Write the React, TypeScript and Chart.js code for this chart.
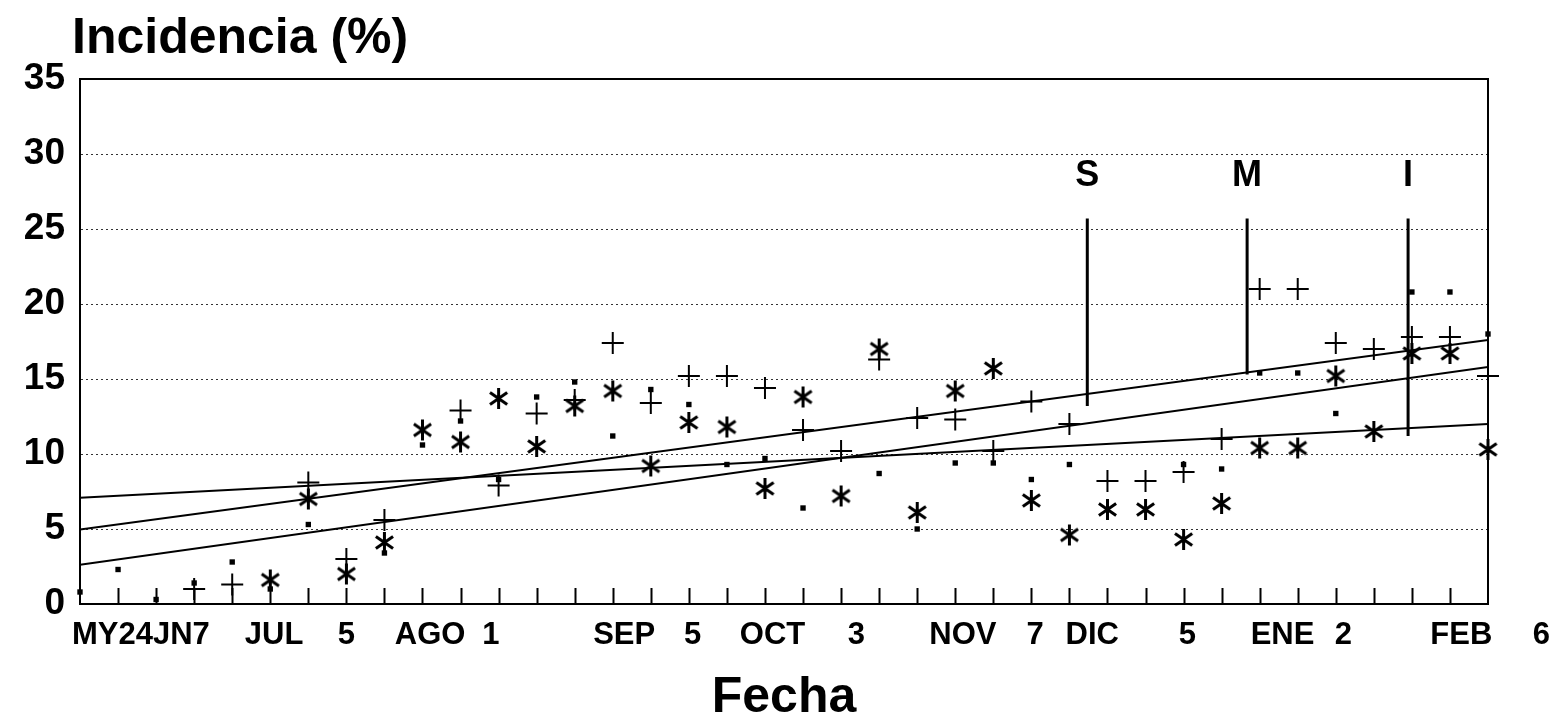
import React, { useEffect, useRef } from 'react';
import { Chart, registerables } from 'chart.js';

Chart.register(...registerables);

// ---- Data (week index 0 = MY24, one step per week) ----
const plusValues: (number | null)[] = [
  null, null, null, 1.0, 1.3, null, 8.1, 3.0, 5.6, null,
  12.9, 7.9, 12.7, 13.6, 17.4, 13.4, 15.2, 15.2, 14.4, 11.6,
  10.2, 16.3, 12.4, 12.3, 10.2, 13.5, 12.0, 8.2, 8.2, 8.8,
  11.0, 21.0, 21.0, 17.4, 17.0, 17.8, 17.8, 15.2,
];
const starValues: (number | null)[] = [
  null, null, null, null, null, 1.6, 7.0, 2.0, 4.1, 11.6,
  10.8, 13.7, 10.5, 13.2, 14.2, 9.2, 12.1, 11.8, 7.7, 13.8,
  7.2, 17.0, 6.1, 14.2, 15.7, 6.9, 4.6, 6.3, 6.3, 4.3,
  6.7, 10.4, 10.4, 15.2, 11.5, 16.7, 16.7, 10.3,
];
const dotValues: (number | null)[] = [
  0.8, 2.3, 0.3, 1.4, 2.8, 1.0, 5.3, null, 3.4, 10.6,
  12.2, 8.3, 13.8, 14.8, 11.2, 14.3, 13.3, 9.3, 9.7, 6.4,
  null, 8.7, 5.0, 9.4, 9.4, 8.3, 9.3, null, null, 9.3,
  9.0, 15.4, 15.4, 12.7, null, 20.8, 20.8, 18.0,
];

// regression lines: value at first week (0) and last week (37)
const trendStart = [4.96, 2.62, 7.09];
const trendEnd = [17.6, 15.8, 12.0];

// S / M / I markers
const markerLabels = ['S', 'M', 'I'];
const markerWeek = [26.47, 30.67, 34.9];
const markerTop = [25.7, 25.7, 25.7];
const markerBottom = [13.2, 15.3, 11.2];
const markerLabelValue = 28.5;

// x tick labels and their (week) positions
const xTickLabels = ['MY24JN7', 'JUL', '5', 'AGO', '1', 'SEP', '5', 'OCT', '3', 'NOV', '7', 'DIC', '5', 'ENE', '2', 'FEB', '6'];
const xTickPositions = [1.6, 5.1, 7.0, 9.2, 10.8, 14.3, 16.1, 18.2, 20.4, 23.2, 25.1, 26.6, 29.1, 31.6, 33.2, 36.3, 38.4];

const FIRST_WEEK = 0;
const LAST_WEEK = 37;
const yTitle = 'Incidencia (%)';
const xTitle = 'Fecha';

const SANS = '"Liberation Sans", Arial, Helvetica, sans-serif';

function toPoints(vals: (number | null)[]) {
  const pts: { x: number; y: number }[] = [];
  vals.forEach((v, i) => {
    if (v !== null) pts.push({ x: i, y: v });
  });
  return pts;
}

function makeAsterisk(size: number, lw: number) {
  const c = document.createElement('canvas');
  c.width = size;
  c.height = size;
  const g = c.getContext('2d')!;
  g.strokeStyle = '#000';
  g.lineWidth = lw;
  const r = size / 2 - 1;
  const cx = size / 2;
  const cy = size / 2;
  g.beginPath();
  for (const a of [90, 35, -35]) {
    const rad = (a * Math.PI) / 180;
    g.moveTo(cx - r * Math.cos(rad), cy - r * Math.sin(rad));
    g.lineTo(cx + r * Math.cos(rad), cy + r * Math.sin(rad));
  }
  g.stroke();
  return c;
}

const framePlugin = {
  id: 'frame',
  afterDatasetsDraw(chart: any) {
    const { ctx, chartArea, scales } = chart;
    const { left, right, top, bottom } = chartArea;
    const x = scales.x;
    const y = scales.y;
    ctx.save();
    ctx.strokeStyle = '#000';
    ctx.lineWidth = 2;
    ctx.beginPath();
    ctx.moveTo(left, top);
    ctx.lineTo(right, top);
    ctx.lineTo(right, bottom);
    ctx.stroke();
    // inward week tick marks
    ctx.beginPath();
    for (let w = FIRST_WEEK + 1; w < LAST_WEEK; w++) {
      const px = Math.round(x.getPixelForValue(w)) + 0.5;
      ctx.moveTo(px, bottom);
      ctx.lineTo(px, bottom - 16);
    }
    ctx.stroke();
    // marker labels
    ctx.fillStyle = '#000';
    ctx.font = `bold 36px ${SANS}`;
    ctx.textAlign = 'center';
    ctx.textBaseline = 'middle';
    markerLabels.forEach((t, i) => {
      ctx.fillText(t, x.getPixelForValue(markerWeek[i]), y.getPixelForValue(markerLabelValue));
    });
    // y title
    ctx.textAlign = 'left';
    ctx.textBaseline = 'alphabetic';
    ctx.font = `bold 50px ${SANS}`;
    ctx.fillText(yTitle, 72, 53);
    ctx.restore();
  },
};

export default function App() {
  const ref = useRef<HTMLCanvasElement | null>(null);

  useEffect(() => {
    if (!ref.current) return;
    const asterisk = makeAsterisk(23, 3);
    const datasets: any[] = [];
    trendStart.forEach((s, i) => {
      datasets.push({
        label: `trend${i}`,
        data: [
          { x: FIRST_WEEK, y: s },
          { x: LAST_WEEK, y: trendEnd[i] },
        ],
        showLine: true,
        borderColor: '#000',
        borderWidth: 2,
        pointRadius: 0,
      });
    });
    markerLabels.forEach((m, i) => {
      datasets.push({
        label: m,
        data: [
          { x: markerWeek[i], y: markerTop[i] },
          { x: markerWeek[i], y: markerBottom[i] },
        ],
        showLine: true,
        borderColor: '#000',
        borderWidth: 3,
        pointRadius: 0,
      });
    });
    datasets.push({
      label: 'plus',
      data: toPoints(plusValues),
      pointStyle: 'cross',
      pointRadius: 11,
      borderWidth: 2,
      borderColor: '#000',
      backgroundColor: '#000',
      clip: false,
    });
    datasets.push({
      label: 'star',
      data: toPoints(starValues),
      pointStyle: asterisk,
      pointRadius: 11,
      borderColor: '#000',
      backgroundColor: '#000',
      clip: false,
    });
    datasets.push({
      label: 'dot',
      data: toPoints(dotValues),
      pointStyle: 'rect',
      pointRadius: 3.8,
      borderWidth: 0,
      borderColor: '#000',
      backgroundColor: '#000',
      clip: false,
    });

    const chart = new Chart(ref.current, {
      type: 'scatter',
      data: { datasets },
      plugins: [framePlugin],
      options: {
        responsive: true,
        maintainAspectRatio: false,
        animation: false,
        layout: { padding: { left: 0, right: 68, top: 79, bottom: 0 } },
        plugins: { legend: { display: false }, tooltip: { enabled: false } },
        scales: {
          x: {
            type: 'linear',
            min: FIRST_WEEK,
            max: LAST_WEEK,
            afterBuildTicks: (s: any) => {
              s.ticks = xTickPositions.map((v) => ({ value: v }));
            },
            afterFit: (s: any) => {
              s.height = 119;
              s.paddingLeft = 0;
              s.paddingRight = 0;
            },
            ticks: {
              autoSkip: false,
              maxRotation: 0,
              minRotation: 0,
              padding: 13,
              color: '#000',
              font: { family: SANS, size: 31, weight: 'bold' },
              callback: (_v: any, i: number) => xTickLabels[i] ?? '',
            },
            grid: { display: false, drawTicks: false },
            border: { display: true, color: '#000', width: 2 },
            title: {
              display: true,
              text: xTitle,
              color: '#000',
              font: { family: SANS, size: 50, weight: 'bold', lineHeight: 1 },
              padding: { top: 0, bottom: 0 },
            },
          },
          y: {
            type: 'linear',
            min: 0,
            max: 35,
            afterFit: (s: any) => {
              s.width = 80;
            },
            ticks: {
              stepSize: 5,
              padding: 15,
              color: '#000',
              font: { family: SANS, size: 37, weight: 'bold' },
            },
            grid: {
              drawTicks: false,
              lineWidth: 1,
              color: (c: any) =>
                c.tick && (c.tick.value === 0 || c.tick.value === 35) ? 'rgba(0,0,0,0)' : '#333',
            },
            border: { display: true, color: '#000', width: 2, dash: [2, 3] },
          },
        },
      } as any,
    });
    return () => chart.destroy();
  }, []);

  return (
    <div style={{ position: 'fixed', left: 0, top: 0, width: 1556, height: 723, background: '#fff' }}>
      <canvas ref={ref} />
    </div>
  );
}
